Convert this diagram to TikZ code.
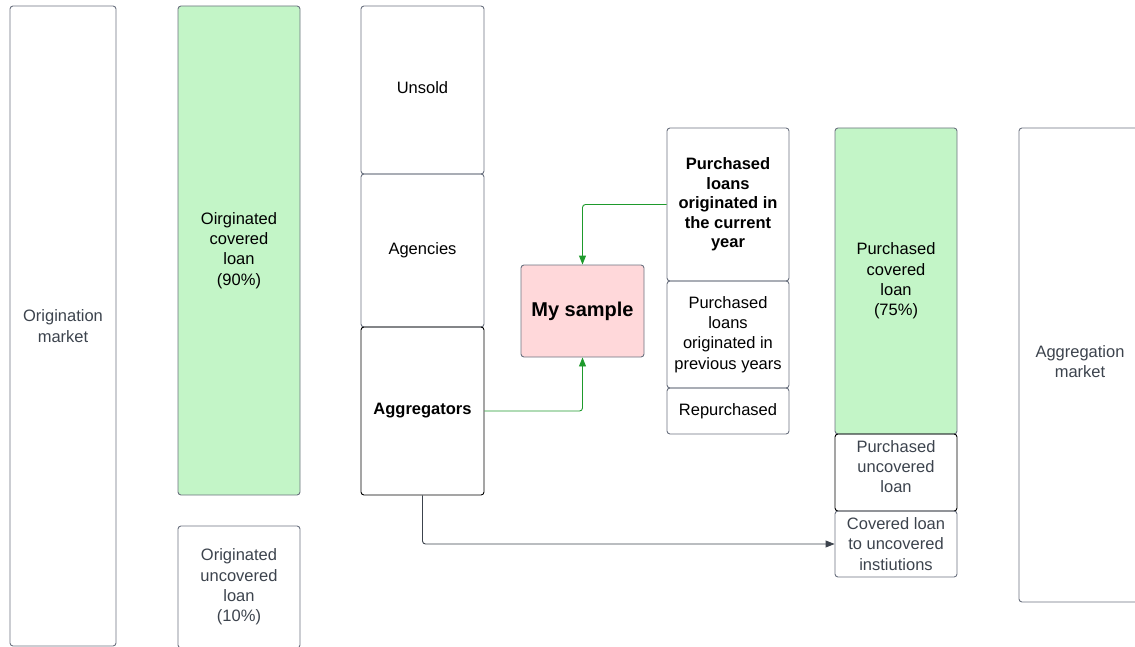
\documentclass[tikz,border=0pt]{standalone}
\usepackage{fontspec}
\setmainfont{Liberation Sans}
\usetikzlibrary{arrows.meta}
\definecolor{bordergray}{HTML}{6B7280}
\definecolor{txtgray}{HTML}{3C434D}
\definecolor{greenfill}{HTML}{C3F5C7}
\definecolor{pinkfill}{HTML}{FFD8DA}
\definecolor{arrowgreen}{HTML}{1E9A2C}
\definecolor{arrowgray}{HTML}{3C434D}
\tikzset{
  box/.style={draw=bordergray, line width=0.9pt, rounded corners=3pt, align=center,
    font=\fontsize{16.5}{20.3}\selectfont, inner sep=0pt, text=black},
  darkbox/.style={box, draw=black},
  greenbox/.style={box, fill=greenfill},
  pinkbox/.style={box, fill=pinkfill, font=\fontsize{20}{24}\selectfont\bfseries},
  greytext/.style={text=txtgray},
  garrow/.style={draw=arrowgreen, line width=0.9pt, rounded corners=3pt,
    -{Triangle[length=9pt,width=7pt]}},
  darrow/.style={draw=arrowgray, line width=0.9pt, rounded corners=3pt,
    -{Triangle[length=9pt,width=7pt]}}
}
\begin{document}
\begin{tikzpicture}[x=1pt,y=-1pt]
\useasboundingbox (0,0) rectangle (1135,647);
% column 1
\node[box, greytext, minimum width=106pt, minimum height=640pt] (orig) at (63,326) {Origination\\market};
% column 2
\node[greenbox, minimum width=122pt, minimum height=489pt] (ocov) at (239,250.5) {Oirginated\\covered\\loan\\(90\%)};
\node[box, greytext, minimum width=122pt, minimum height=122pt] (ounc) at (239,587) {Originated\\uncovered\\loan\\(10\%)};
% column 3
\node[box, minimum width=123pt, minimum height=168pt, text depth=4pt] (unsold) at (422.5,90) {Unsold};
\node[box, minimum width=123pt, minimum height=153pt] (agen) at (422.5,250.5) {Agencies};
\node[darkbox, minimum width=123pt, minimum height=168pt, font=\fontsize{16.5}{20.3}\selectfont\bfseries] (aggr) at (422.5,411) {Aggregators};
% my sample
\node[pinkbox, minimum width=123pt, minimum height=92pt] (mys) at (582.5,311) {My sample};
% column 4
\node[box, minimum width=122pt, minimum height=153pt, font=\fontsize{16.5}{19.6}\selectfont\bfseries] (pcur) at (728,204.5) {Purchased\\loans\\originated in\\the current\\year};
\node[box, minimum width=122pt, minimum height=107pt] (pprev) at (728,334.5) {Purchased\\loans\\originated in\\previous years};
\node[box, minimum width=122pt, minimum height=46pt] (rep) at (728,411) {Repurchased};
% column 5
\node[greenbox, minimum width=122pt, minimum height=306pt] (pcov) at (896,281) {Purchased\\covered\\loan\\(75\%)};
\node[darkbox, greytext, minimum width=122pt, minimum height=77pt, text depth=12pt] (punc) at (896,472.5) {Purchased\\uncovered\\loan};
\node[box, greytext, minimum width=122pt, minimum height=66pt] (covl) at (896,544) {Covered loan\\to uncovered\\instiutions};
% column 6
\node[box, greytext, minimum width=122pt, minimum height=474pt, text depth=7pt] (aggm) at (1080,365) {Aggregation\\market};
% connectors
\draw[garrow] (pcur.west) -| (mys.north);
\draw[garrow] (aggr.east) -| (mys.south);
\draw[darrow] (aggr.south) |- (covl.west);
\end{tikzpicture}
\end{document}
